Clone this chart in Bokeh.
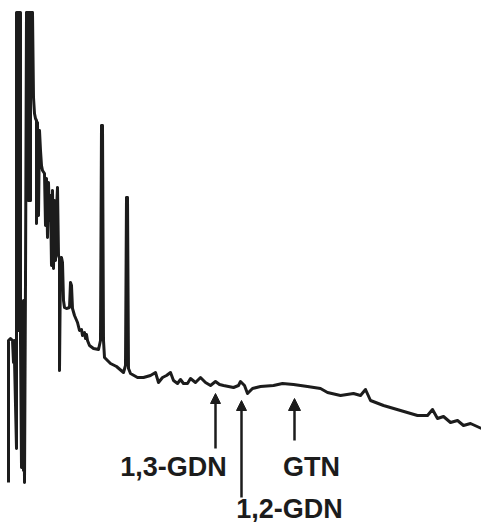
from bokeh.plotting import figure
from bokeh.models import Range1d, Arrow, NormalHead, ColumnDataSource
from bokeh.core.properties import value
from bokeh.embed import file_html
from bokeh.resources import INLINE

# Chromatogram trace: retention time (arbitrary units) vs detector response
time = [8, 8, 10, 12, 13, 14, 15, 14, 16, 16, 18, 18, 18, 20, 20, 21, 21, 22, 23, 23,
        24, 25, 26, 28, 28, 28, 30, 30, 30, 32, 33, 34, 35, 36, 36, 37, 38, 39, 40, 41,
        42, 44, 45, 46, 47, 48, 49, 50, 51, 52, 53, 54, 55, 56, 57, 58, 59, 59, 60, 61,
        62, 63, 64, 66, 69, 70, 71, 72, 74, 77, 79, 81, 82,
        84, 85, 86, 87, 89, 93, 98, 100, 101, 102, 103, 104, 110, 116, 123, 125, 126, 127, 128, 130,
        137, 143, 150, 155, 158, 162, 166, 170, 173, 177, 180, 183, 187, 190, 195, 200, 205, 210, 215, 219,
        223, 233, 238, 240, 244, 247, 252, 260, 273, 282, 293, 307, 320, 327, 340, 353, 360, 365, 370, 383,
        400, 417, 427, 432, 437, 443, 450, 457, 463, 470, 481]
response = [40, 182, 184, 182, 160, 182, 122, 162, 74, 510, 510, 192, 510, 510, 182, 55, 197, 192, 52, 222,
            40, 242, 510, 510, 322, 510, 510, 322, 510, 510, 425, 409, 404, 402, 299, 400, 307, 392, 372, 357,
            352, 349, 297, 344, 285, 340, 302, 327, 257, 332, 254, 322, 262, 312, 335, 267, 264, 152, 260, 265,
            260, 222, 215, 214, 215, 240, 237, 214, 207, 200, 192, 193, 187,
            190, 184, 188, 182, 177, 174, 173, 182, 397, 397, 182, 165, 159, 156, 150, 157, 325, 325, 154, 149,
            145, 145, 147, 150, 140, 145, 147, 150, 142, 139, 143, 139, 139, 144, 140, 145, 140, 137, 141, 138,
            137, 135, 137, 141, 137, 129, 134, 136, 137, 139, 138, 136, 134, 130, 127, 129, 127, 133, 122, 117,
            112, 107, 107, 113, 104, 106, 100, 102, 97, 99, 94]

# Marked compounds and their expected retention times
compounds = ["1,3-GDN", "1,2-GDN", "GTN"]
compound_times = [215, 241, 294]

INK = "#1c1c1c"

p = figure(width=481, height=522, output_backend="svg", toolbar_location=None,
           x_range=Range1d(0, 481), y_range=Range1d(0, 522),
           x_axis_location=None, y_axis_location=None, min_border=0)
p.grid.visible = False
p.outline_line_color = None
p.background_fill_color = "white"
p.border_fill_color = "white"

p.line(time, response, line_color=INK, line_width=3, line_join="round")

# arrows (layout: tip and tail heights, head sizes)
tips = [129, 122, 124]
tails = [74, 25, 82]
heads = [10, 10, 12]
for t, ytip, ytail, hs in zip(compound_times, tips, tails, heads):
    p.add_layout(Arrow(end=NormalHead(size=hs, fill_color=INK, line_color=INK, line_width=1),
                       x_start=t, y_start=ytail, x_end=t, y_end=ytip,
                       line_color=INK, line_width=2.5))

label_src = ColumnDataSource(dict(
    x=[173, 289, 311],
    y=[56, 14, 56],
    text=compounds,
))
p.text(x="x", y="y", text="text", source=label_src, text_align="center",
       text_baseline="alphabetic", text_font=value("Liberation Sans"),
       text_font_style="bold", text_font_size="27px", text_color=INK)

open("out.html", "w").write(file_html(p, INLINE))
